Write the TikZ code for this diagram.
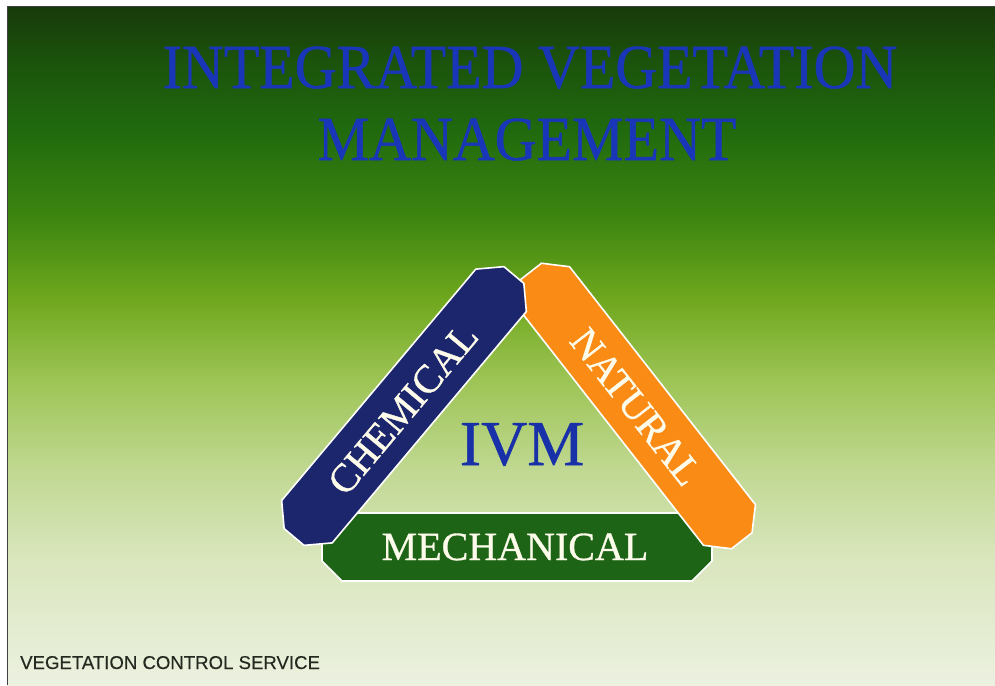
\documentclass[tikz,border=0pt]{standalone}
\usepackage{fontspec}
\setmainfont{Liberation Serif}
\newfontfamily\heavyserif[FakeBold=0.8]{Liberation Serif}
\newfontfamily\footsans[FakeBold=0.3]{Liberation Sans}

% slide colours
\definecolor{bgA}{RGB}{236,241,224}
\definecolor{bgB}{RGB}{218,230,190}
\definecolor{bgC}{RGB}{192,216,145}
\definecolor{bgD}{RGB}{157,196,85}
\definecolor{bgE}{RGB}{112,168,30}
\definecolor{bgF}{RGB}{62,134,16}
\definecolor{bgG}{RGB}{32,106,14}
\definecolor{bgH}{RGB}{27,82,12}
\definecolor{bgI}{RGB}{24,58,10}
\definecolor{titleblue}{RGB}{26,54,184}
\definecolor{ivmblue}{RGB}{24,48,168}
\definecolor{chemnavy}{RGB}{28,38,108}
\definecolor{natorange}{RGB}{250,140,22}
\definecolor{mechgreen}{RGB}{30,100,22}
\definecolor{barcream}{RGB}{253,251,234}
\definecolor{footgray}{RGB}{36,42,32}

% top-to-bottom slide gradient (bounding box maps onto 25bp..75bp)
\pgfdeclareverticalshading{slidebg}{100bp}{%
  color(0bp)=(bgA); color(25bp)=(bgA); color(34.2bp)=(bgB);
  color(40.9bp)=(bgC); color(47.5bp)=(bgD); color(53.4bp)=(bgE);
  color(59.3bp)=(bgF); color(65.9bp)=(bgG); color(71.1bp)=(bgH);
  color(75bp)=(bgI); color(100bp)=(bgI)}

\tikzset{
  barshape/.style={draw=white, line width=1.6pt, line join=miter},
  bartext/.style={text=barcream, inner sep=0pt, font=\heavyserif\fontsize{40}{40}\selectfont},
  titletext/.style={text=titleblue, inner sep=0pt, font=\heavyserif\fontsize{58}{58}\selectfont},
  ivmtext/.style={text=ivmblue, inner sep=0pt, font=\heavyserif\fontsize{64}{64}\selectfont},
}

\begin{document}
\begin{tikzpicture}[x=1pt,y=-1pt]
  \useasboundingbox (0,0) rectangle (995,685);
  \fill[white] (0,0) rectangle (995,685);

  % slide background
  \shade[shading=slidebg] (7,7) rectangle (995,685);
  \draw[black!75, line width=1pt] (7,685) -- (7,7) -- (995,7);

  % title
  \node[titletext, anchor=base] (title1) at (530,88)
    {\scalebox{1}[1.08]{INTEGRATED VEGETATION}};
  \node[titletext, anchor=base] (title2) at (527,160)
    {\scalebox{1}[1.08]{MANAGEMENT}};

  % bottom bar: mechanical
  \begin{scope}[shift={(517,547)}]
    \path[barshape, fill=mechgreen]
      (-175,-34) -- (175,-34) -- (195,-14) -- (195,14) -- (175,34)
      -- (-175,34) -- (-195,14) -- (-195,-14) -- cycle;
  \end{scope}
  \node[bartext, anchor=base] (mech) at (515,560) {MECHANICAL};

  % right bar: natural
  \begin{scope}[shift={(636.5,406)}, rotate=-52]
    \path[barshape, fill=natorange]
      (-151,-33) -- (151,-33) -- (171,-13) -- (171,13) -- (151,33)
      -- (-151,33) -- (-171,13) -- (-171,-13) -- cycle;
  \end{scope}
  \node[bartext, rotate=-52] (nat) at (636,407) {NATURAL};

  % left bar: chemical
  \begin{scope}[shift={(404,406)}, rotate=50]
    \path[barshape, fill=chemnavy]
      (-151,-33) -- (151,-33) -- (171,-13) -- (171,13) -- (151,33)
      -- (-151,33) -- (-171,13) -- (-171,-13) -- cycle;
  \end{scope}
  \node[bartext, rotate=50] (chem) at (403,409) {CHEMICAL};

  % centre label
  \node[ivmtext, anchor=base] (ivm) at (522,465) {IVM};

  % footer
  \node[anchor=base west, inner sep=0pt, text=footgray,
        font=\footsans\fontsize{18.6}{18.6}\selectfont] (footer) at (20,669)
    {VEGETATION CONTROL SERVICE};
\end{tikzpicture}
\end{document}
